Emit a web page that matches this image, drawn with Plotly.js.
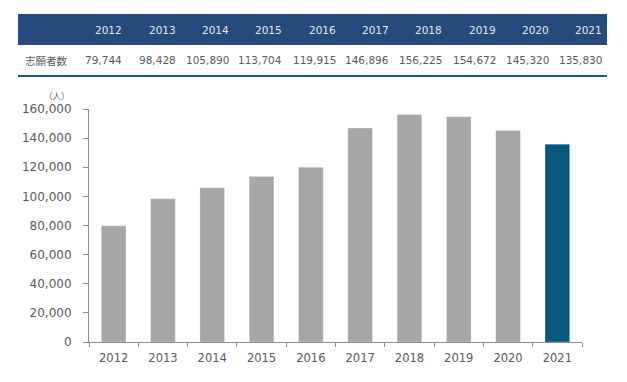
<!DOCTYPE html>
<html>
<head>
<meta charset="utf-8">
<script src="https://cdn.plot.ly/plotly-3.0.1.min.js"></script>
<style>html,body{margin:0;padding:0;background:#fff;}#chart{width:627px;height:382px;}</style>
</head>
<body>
<div id="chart"></div>
<script>
const years = ['2012','2013','2014','2015','2016','2017','2018','2019','2020','2021'];
const applicants = [79744, 98428, 105890, 113704, 119915, 146896, 156225, 154672, 145320, 135830];
const rowLabel = '志願者数';
const unitLabel = '（人）';
const yTicks = [0, 20000, 40000, 60000, 80000, 100000, 120000, 140000, 160000];

const W = 627, H = 382;
const mL = 89, mR = 45, mT = 109, mB = 40;
const pw = W - mL - mR, ph = H - mT - mB;
const px = x => (x - mL) / pw;
const py = y => (H - mB - y) / ph;

const fmt = v => v.toLocaleString('en-US');
const colors = years.map((y, i) => i === years.length - 1 ? '#0b567f' : '#a6a6a6');
const FONT = '"DejaVu Sans", Verdana, sans-serif';

const annotations = [];
const shapes = [];
shapes.push({type:'rect', xref:'paper', yref:'paper', x0:px(18), x1:px(607), y0:py(45), y1:py(14), fillcolor:'#264a7b', line:{width:0}, layer:'below'});
shapes.push({type:'line', xref:'paper', yref:'paper', x0:px(18), x1:px(607), y0:py(76), y1:py(76), line:{color:'#0f5b84', width:2}});

years.forEach((y, i) => {
  const right = 124.3 + 53.33 * i;
  annotations.push({xref:'paper', yref:'paper', x:px(right), y:py(30), xanchor:'right', yanchor:'middle', showarrow:false, text:y, font:{family:FONT, size:10.5, color:'#e2e7ee'}});
  annotations.push({xref:'paper', yref:'paper', x:px(right), y:py(60.5), xanchor:'right', yanchor:'middle', showarrow:false, text:fmt(applicants[i]), font:{family:FONT, size:10.5, color:'#595959'}});
});
annotations.push({xref:'paper', yref:'paper', x:px(23), y:py(60.5), xanchor:'left', yanchor:'middle', showarrow:false, text:rowLabel, font:{family:'"Noto Sans CJK JP", sans-serif', size:10.5, color:'#595959'}});
annotations.push({xref:'paper', yref:'paper', x:px(57), y:py(95), xanchor:'center', yanchor:'middle', showarrow:false, text:unitLabel, font:{family:'"Noto Sans CJK JP", sans-serif', size:8.5, color:'#595959'}});

const trace = {
  type:'bar', x: years, y: applicants,
  marker:{color: colors, line:{color:'rgba(255,255,255,0.5)', width:0.5}},
  hoverinfo:'skip'
};

const layout = {
  width: W, height: H,
  margin:{l:mL, r:mR, t:mT, b:mB, pad:0},
  paper_bgcolor:'#fff', plot_bgcolor:'#fff',
  showlegend:false,
  bargap: 0.5,
  font:{family:FONT, color:'#595959'},
  xaxis:{
    type:'category', showgrid:false, showline:true, linecolor:'#8c8c8c', linewidth:1,
    ticks:'outside', ticklen:4, tickcolor:'#8c8c8c', tickson:'boundaries',
    ticklabelstandoff:5,
    tickfont:{family:FONT, size:11.5, color:'#595959'}, zeroline:false, fixedrange:true
  },
  yaxis:{
    range:[0,160000], tickvals: yTicks, ticktext: yTicks.map(fmt),
    showgrid:false, showline:true, linecolor:'#8c8c8c', linewidth:1,
    ticks:'outside', ticklen:5, tickcolor:'#8c8c8c', ticklabelstandoff:9,
    tickfont:{family:FONT, size:12, color:'#595959'}, zeroline:false, fixedrange:true
  },
  shapes, annotations
};

Plotly.newPlot('chart', [trace], layout, {staticPlot:true, displayModeBar:false});
</script>
</body>
</html>
